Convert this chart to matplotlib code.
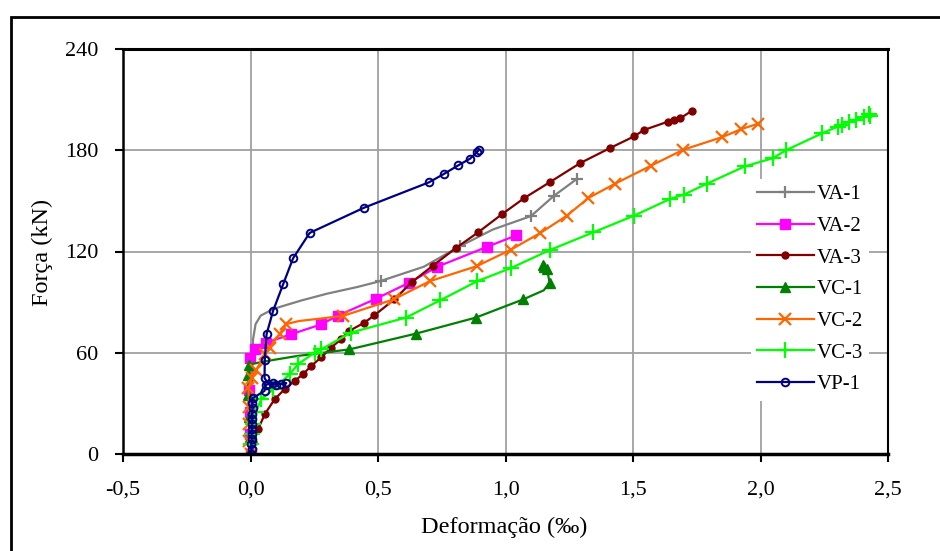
import matplotlib
matplotlib.use('Agg')
import matplotlib.pyplot as plt
from matplotlib.ticker import FuncFormatter
from matplotlib.patches import Rectangle

plt.rcParams['font.family'] = ['Liberation Serif', 'DejaVu Serif']

# deformação (‰) e força (kN) de cada viga
va1_x = [0.0, 0.003, 0.006, 0.01, 0.02, 0.04, 0.09, 0.2, 0.3, 0.42, 0.51, 0.68, 0.82, 0.95, 1.1, 1.19, 1.28]
va1_y = [0, 20, 45, 68, 77, 82, 86, 91, 95, 99, 102.5, 111, 123, 133, 141, 153, 163]

va2_x = [0.0, -0.002, -0.003, -0.004, -0.003, 0.017, 0.0625, 0.16, 0.277, 0.343, 0.492, 0.622, 0.733, 0.928, 1.043]
va2_y = [0, 12, 25, 38, 57, 62.5, 66, 71, 76.8, 82, 92, 101.5, 111, 122.8, 129.6]

va3_x = [0.0, 0.01, 0.03, 0.056, 0.095, 0.134, 0.173, 0.206, 0.238, 0.277, 0.316, 0.355, 0.388, 0.446, 0.486,
         0.564, 0.633, 0.716, 0.807, 0.893, 0.987, 1.074, 1.173, 1.293, 1.41, 1.504, 1.543, 1.638, 1.66, 1.686, 1.732]
va3_y = [0, 7, 14.8, 23.6, 32.5, 38.4, 43.3, 47.3, 52.2, 57.2, 63, 68, 73, 77.8, 82.2,
         91.6, 101.9, 111.7, 122.2, 131.4, 142.2, 151.7, 161, 172.4, 181.3, 188.2, 192, 197, 198, 199, 203.5]

vc1_x = [0.0, -0.003, -0.006, -0.008, -0.01, -0.005, 0.06, 0.18, 0.31, 0.388, 0.5, 0.648, 0.883, 1.069, 1.15,
         1.173, 1.163, 1.15, 1.147]
vc1_y = [0, 10, 22, 35, 47, 53, 55, 58, 60.5, 62, 66, 71.3, 80.8, 91.6, 97, 101.5, 109.4, 111, 112]

vc2_x = [0.0, -0.004, -0.005, -0.006, -0.008, 0.005, 0.023, 0.056, 0.075, 0.114, 0.141, 0.19, 0.362, 0.561,
         0.703, 0.887, 1.02, 1.137, 1.241, 1.325, 1.43, 1.57, 1.697, 1.85, 1.924, 1.99]
vc2_y = [0, 8, 18, 28, 39, 45, 50, 59, 63, 71, 77, 78.8, 81.8, 91.6, 102.4, 111.3, 121, 131, 141.3, 151.7,
         160.2, 170.8, 180.3, 187.8, 192.5, 195.7]

vc3_x = [0.0, 0.002, 0.004, 0.008, 0.02, 0.043, 0.089, 0.154, 0.186, 0.251, 0.277, 0.395, 0.609, 0.743, 0.889,
         1.023, 1.176, 1.345, 1.505, 1.645, 1.699, 1.79, 1.938, 2.048, 2.1, 2.241, 2.302, 2.32, 2.348, 2.374,
         2.406, 2.426, 2.43]
vc3_y = [0, 6, 12, 18, 25, 32.5, 38.4, 47.3, 53.2, 60, 62, 72, 80.8, 91, 102.4, 110.3, 121, 131.4, 141.3,
         151.1, 153.7, 160.2, 170.4, 175.3, 180, 190, 194, 195, 197, 198, 200, 201.6, 200.5]

vp1_x = [0.0, 0.004, 0.003, 0.005, 0.004, 0.006, 0.005, 0.007, 0.006, 0.008, 0.007, 0.008, 0.055, 0.06, 0.09,
         0.12, 0.14, 0.1, 0.07, 0.055, 0.056, 0.063, 0.089, 0.128, 0.167, 0.232, 0.446, 0.70, 0.759, 0.814,
         0.861, 0.889, 0.895]
vp1_y = [0, 3, 6, 9, 12, 15, 18, 21, 24, 27, 30, 33, 37.4, 41, 42, 41.5, 42, 41, 41.5, 45, 56, 71, 85, 100.6,
         116, 131, 146, 161, 166, 171, 175, 179, 180]

fig = plt.figure(figsize=(9.4, 5.51), dpi=100)
ax = fig.add_axes([123 / 940, 1 - 454 / 551, (888 - 123) / 940, (454 - 49) / 551])

lw = 1.6
ax.plot(va1_x, va1_y, color='#808080', lw=lw, marker='+', ms=9, mew=1.6,
        markevery=[10, 12, 14, 15, 16], label='VA-1')
ax.plot(va2_x, va2_y, color='#ff00ff', lw=lw, marker='s', ms=7, label='VA-2')
ax.plot(va3_x, va3_y, color='#800000', lw=lw, marker='o', ms=5, label='VA-3')
ax.plot(vc1_x, vc1_y, color='#008000', lw=lw, marker='^', ms=7,
        markevery=[0, 1, 2, 3, 4, 5, 9, 11, 12, 13, 15, 16, 17, 18], label='VC-1')
ax.plot(vc2_x, vc2_y, color='#ff6600', lw=lw, marker='x', ms=9, mew=1.6,
        markevery=[i for i in range(len(vc2_x)) if i != 11], label='VC-2')
ax.plot(vc3_x, vc3_y, color='#00ff00', lw=lw, marker='+', ms=11, mew=1.6, label='VC-3')
ax.plot(vp1_x, vp1_y, color='#000080', lw=lw, marker='o', ms=5.5, mfc='none', mew=1.4, label='VP-1')

ax.set_xlim(-0.5, 2.5)
ax.set_ylim(0, 240)
ax.set_xticks([-0.5, 0, 0.5, 1.0, 1.5, 2.0, 2.5])
ax.set_yticks([0, 60, 120, 180, 240])
ax.xaxis.set_major_formatter(FuncFormatter(lambda v, p: f'{v:.1f}'.replace('.', ',')))
ax.grid(True, color='#a0a0a0', lw=1.3)
ax.set_axisbelow(True)
for s in ax.spines.values():
    s.set_color('black')
ax.spines['bottom'].set_linewidth(2.5)
ax.spines['top'].set_linewidth(2.2)
ax.spines['left'].set_linewidth(1.8)
ax.spines['right'].set_linewidth(1.5)
ax.tick_params(direction='out', length=6, width=1.5, labelsize=16)
ax.tick_params(axis='x', pad=13)
ax.tick_params(axis='y', pad=12)

fig.text(504 / 940, 1 - 527 / 551, 'Deformação (‰)', ha='center', va='center', fontsize=17.5)
fig.text(42 / 940, 1 - 252 / 551, 'Força (kN)', ha='center', va='center', rotation=90, fontsize=17.5)

ax.legend(loc='upper left', bbox_to_anchor=(0.821, 0.68), frameon=True, facecolor='white',
          edgecolor='none', framealpha=1, fancybox=False, fontsize=15, handlelength=2.7,
          labelspacing=0.58, borderpad=0.3, handletextpad=0.15, borderaxespad=0)

fig.patches.append(Rectangle((11 / 940, -0.1), 1.2, 1 - 17 / 551 + 0.1, transform=fig.transFigure,
                             fill=False, lw=2, ec='black'))

fig.savefig('out.png', dpi=100)
